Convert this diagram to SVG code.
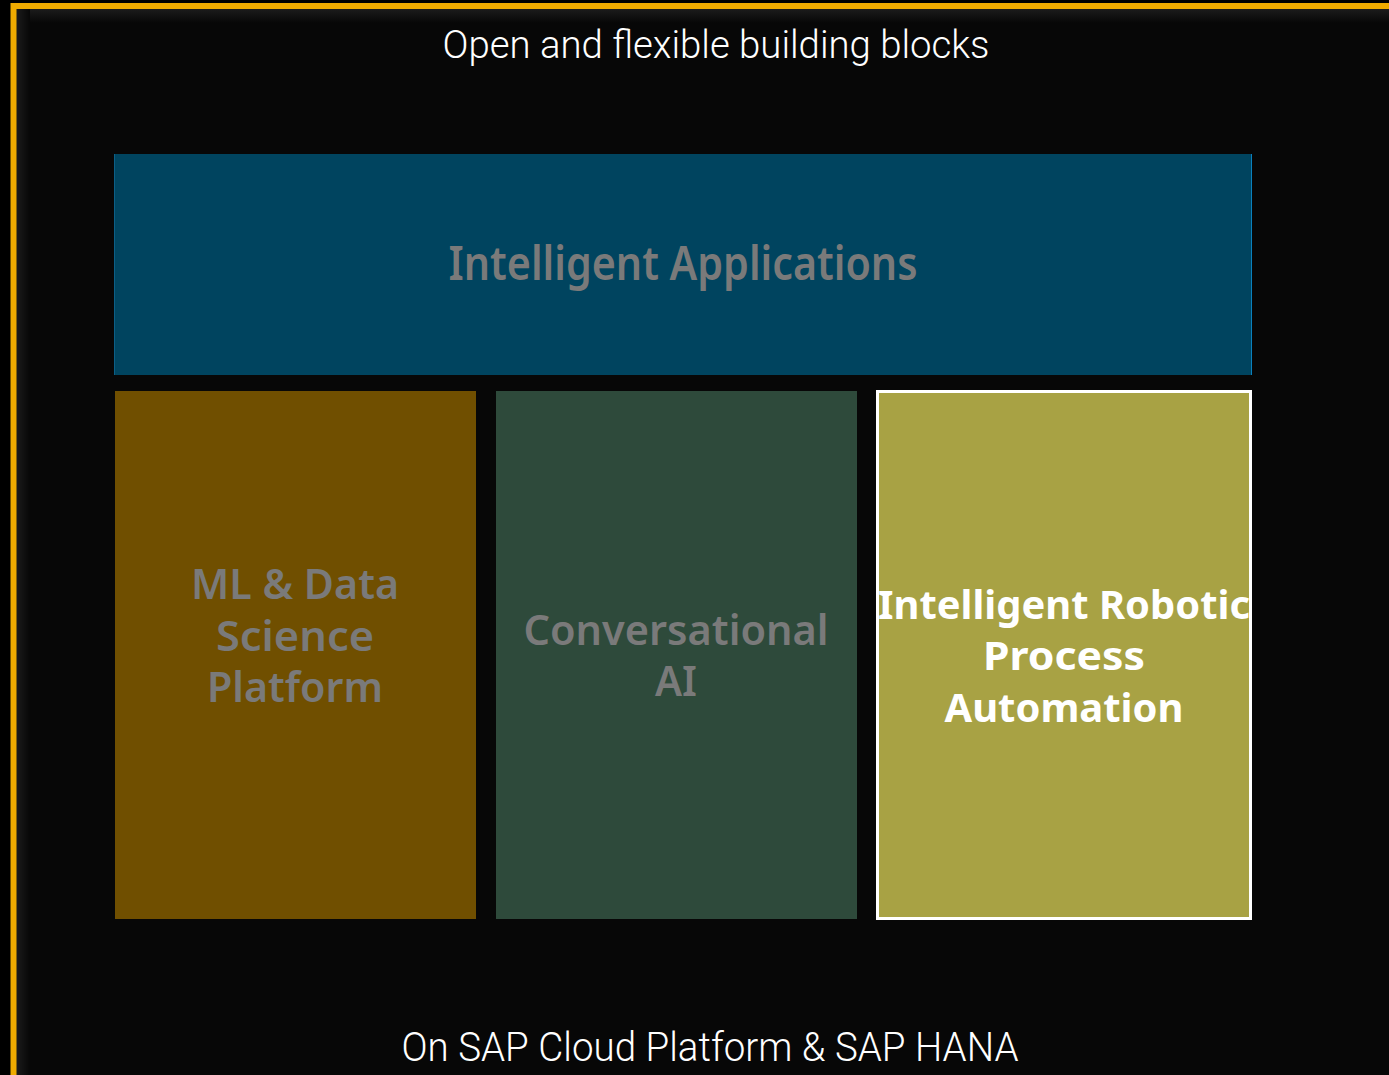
<svg xmlns="http://www.w3.org/2000/svg" width="1389" height="1075" viewBox="0 0 1389 1075">
  <defs>
    <linearGradient id="shTop" x1="0" y1="0" x2="0" y2="1">
      <stop offset="0" stop-color="#1c1c1c"/>
      <stop offset="1" stop-color="#070707"/>
    </linearGradient>
    <linearGradient id="shLeft" x1="0" y1="0" x2="1" y2="0">
      <stop offset="0" stop-color="#1c1c1c"/>
      <stop offset="1" stop-color="#070707"/>
    </linearGradient>
    <style>
      .caption { font-family: Roboto, "Liberation Sans", sans-serif; font-weight: 300; fill: #ffffff; text-anchor: middle; }
      .label { font-family: "Noto Sans", "Liberation Sans", sans-serif; font-weight: 600; text-anchor: middle; font-size: 41px; }
      .dim { fill: #7a7a7a; }
      .bright { fill: #ffffff; font-weight: 700; font-size: 39px; }
    </style>
  </defs>
  <rect x="0" y="0" width="1389" height="1075" fill="#000000"/>
  <rect x="13" y="6" width="1376" height="1069" fill="#070707"/>
  <rect x="16" y="9" width="1373" height="14" fill="url(#shTop)"/>
  <rect x="16" y="9" width="14" height="1066" fill="url(#shLeft)"/>
  <path d="M13.5 1075 V6 H1389" fill="none" stroke="#f0ab00" stroke-width="6"/>

  <text class="caption" x="716" y="58" font-size="38" textLength="547" lengthAdjust="spacingAndGlyphs">Open and flexible building blocks</text>

  <g id="intelligent-applications">
    <rect x="114" y="154" width="1138" height="221" fill="#00445f"/>
    <line x1="114.5" y1="154" x2="114.5" y2="375" stroke="#0b5f86" stroke-width="1"/>
    <line x1="1251.5" y1="154" x2="1251.5" y2="375" stroke="#0a80bd" stroke-width="1"/>
    <text class="label dim" x="683" y="280" style="font-size:46px" textLength="469" lengthAdjust="spacingAndGlyphs">Intelligent Applications</text>
  </g>

  <g id="ml-data-science">
    <rect x="115" y="391" width="361" height="528" fill="#704f00"/>
    <text class="label dim" x="295" y="599" textLength="208" lengthAdjust="spacingAndGlyphs">ML &amp; Data</text>
    <text class="label dim" x="295" y="651" textLength="158" lengthAdjust="spacingAndGlyphs">Science</text>
    <text class="label dim" x="295" y="702" textLength="176" lengthAdjust="spacingAndGlyphs">Platform</text>
  </g>

  <g id="conversational-ai">
    <rect x="496" y="391" width="361" height="528" fill="#2e4a3b"/>
    <text class="label dim" x="676" y="645" textLength="305" lengthAdjust="spacingAndGlyphs">Conversational</text>
    <text class="label dim" x="676" y="696" textLength="42" lengthAdjust="spacingAndGlyphs">AI</text>
  </g>

  <g id="intelligent-rpa">
    <rect x="877.5" y="391.5" width="373" height="527" fill="#a8a244" stroke="#ffffff" stroke-width="3"/>
    <text class="label bright" x="1064" y="619" textLength="372" lengthAdjust="spacingAndGlyphs">Intelligent Robotic</text>
    <text class="label bright" x="1064" y="670" textLength="162" lengthAdjust="spacingAndGlyphs">Process</text>
    <text class="label bright" x="1064" y="722" textLength="239" lengthAdjust="spacingAndGlyphs">Automation</text>
  </g>

  <g id="connectors"/>

  <text class="caption" x="710" y="1061" font-size="41" textLength="617" lengthAdjust="spacingAndGlyphs">On SAP Cloud Platform &amp; SAP HANA</text>
</svg>
